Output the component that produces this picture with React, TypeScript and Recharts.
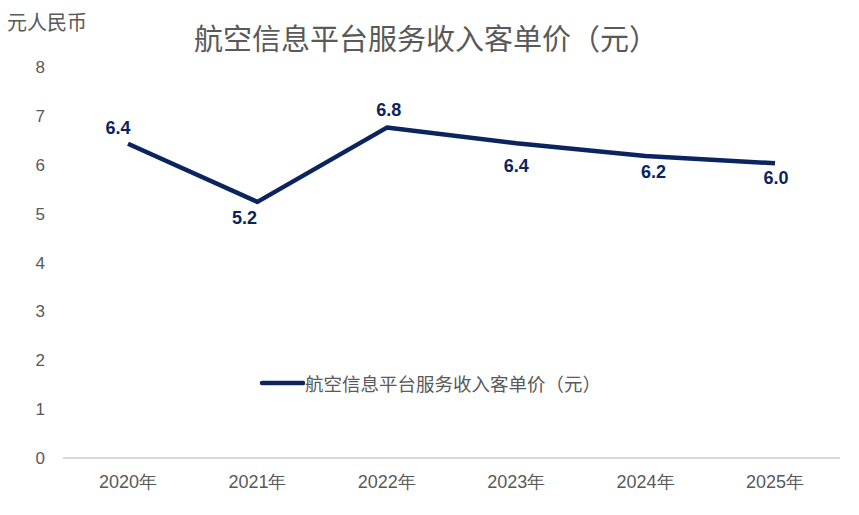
import React from 'react'
import { LineChart, Line, XAxis, YAxis } from 'recharts'

const years = ['2020年', '2021年', '2022年', '2023年', '2024年', '2025年']
const unitPrice = [6.43, 5.24, 6.76, 6.44, 6.18, 6.03]
const yTicks = [0, 1, 2, 3, 4, 5, 6, 7, 8]

const SERIES_NAME = '航空信息平台服务收入客单价（元）'
const NAVY = '#0b2460'
const GREY = '#595959'
const CJK = '"Noto Sans CJK SC", "Liberation Sans", sans-serif'
const LATIN = '"Liberation Sans", Arial, sans-serif'

// label offset (dx, dy of text baseline) per point, as placed in the original
const labelOffsets: [number, number][] = [
  [-10, -10],
  [-13, 22],
  [2, -12],
  [0, 29],
  [8, 22],
  [1, 21],
]

const data = years.map((year, i) => ({ year, value: unitPrice[i] }))

const PointLabel = (props: any) => {
  const { x, y, value, index } = props
  const [dx, dy] = labelOffsets[index] ?? [0, -10]
  return (
    <text
      x={x + dx}
      y={y + dy}
      textAnchor="middle"
      fill={NAVY}
      fontFamily={LATIN}
      fontWeight="bold"
      fontSize={18}
    >
      {Number(value).toFixed(1)}
    </text>
  )
}

export default function App() {
  return (
    <div style={{ position: 'fixed', left: 0, top: 0, width: 859, height: 515, background: '#fff' }}>
      <div
        style={{
          position: 'absolute',
          top: 18,
          left: 0,
          width: 852,
          textAlign: 'center',
          fontFamily: CJK,
          fontSize: 29,
          color: GREY,
          lineHeight: '38px',
        }}
      >
        {SERIES_NAME}
      </div>
      <div
        style={{
          position: 'absolute',
          top: 9,
          left: 7,
          fontFamily: CJK,
          fontSize: 20,
          color: GREY,
          lineHeight: '26px',
        }}
      >
        元人民币
      </div>
      {/* legend sits inside the plot area */}
      <div
        style={{
          position: 'absolute',
          top: 371,
          left: 258,
          display: 'flex',
          alignItems: 'center',
          fontFamily: CJK,
          fontSize: 18.5,
          color: GREY,
          lineHeight: '24px',
        }}
      >
        <svg width={47} height={10} style={{ display: 'block' }}>
          <line x1={4} y1={5} x2={45} y2={5} stroke={NAVY} strokeWidth={4.5} strokeLinecap="round" />
        </svg>
        <span>{SERIES_NAME}</span>
      </div>
      <LineChart width={859} height={515} data={data} margin={{ top: 67, right: 19, bottom: 0, left: 0 }}>
        <XAxis
          dataKey="year"
          padding={{ left: 65, right: 65 }}
          axisLine={{ stroke: '#d9d9d9', strokeWidth: 2 }}
          tickLine={false}
          tickSize={0}
          tickMargin={17}
          height={57}
          tick={{ fill: GREY, fontSize: 18, fontFamily: LATIN }}
        />
        <YAxis
          domain={[0, 8]}
          ticks={yTicks}
          axisLine={false}
          tickLine={false}
          tickSize={0}
          tickMargin={18}
          width={63}
          tick={{ fill: GREY, fontSize: 17, fontFamily: LATIN }}
        />
        <Line
          type="linear"
          dataKey="value"
          name={SERIES_NAME}
          stroke={NAVY}
          strokeWidth={4.5}
          strokeLinejoin="round"
          dot={false}
          activeDot={false}
          label={<PointLabel />}
          isAnimationActive={false}
        />
      </LineChart>
    </div>
  )
}
